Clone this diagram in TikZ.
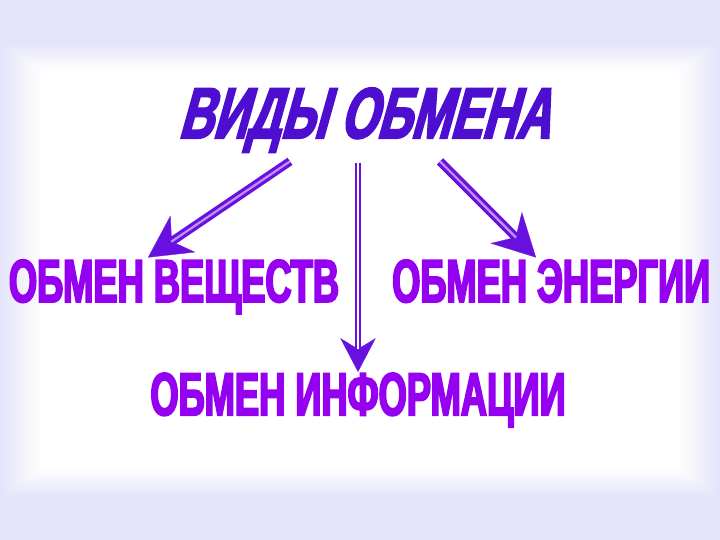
\documentclass[tikz,border=0pt]{standalone}
\usepackage{fontspec}
\usetikzlibrary{arrows.meta}
\newfontfamily\titlefont[FakeStretch=0.66,FakeSlant=0.28,FakeBold=3]{Liberation Sans}
\newfontfamily\itemfont[FakeStretch=0.6,FakeBold=3]{Liberation Sans}
\definecolor{lavender}{RGB}{228, 228, 250}
\definecolor{titleblue}{RGB}{78, 14, 208}
\definecolor{itemviolet}{RGB}{150, 0, 240}
\definecolor{arrowviolet}{RGB}{104, 16, 224}
\tikzset{
  heading/.style={anchor=base, inner sep=0pt, text=titleblue, font=\titlefont\bfseries\fontsize{51}{51}\selectfont},
  kind/.style={anchor=base, inner sep=0pt, text=itemviolet, font=\itemfont\bfseries\fontsize{43}{43}\selectfont},
  shaft/.style={draw=arrowviolet, line width=2.3pt, double=arrowviolet!45!white, double distance=1.6pt, shorten >=20pt},
  thinshaft/.style={draw=arrowviolet, line width=1.1pt, double=white, double distance=1.6pt, shorten >=16pt},
  head/.style={draw=arrowviolet, line width=0.2pt, -{Stealth[length=#1, width=1.05*#1, inset=0.32*#1, fill=arrowviolet]}}
}

\begin{document}
\begin{tikzpicture}
  \useasboundingbox (0,0) rectangle (18,13.5);
  % background
  \fill[lavender] (0,0) rectangle (18,13.5);
  \foreach \i in {1,...,10}
    \fill[white!\the\numexpr\i*10\relax!lavender] (0.1*\i,1.05+0.07*\i) rectangle (18-0.1*\i,12.45-0.07*\i);

  \node[heading]                        (title)  at (9.10,10.05) {ВИДЫ ОБМЕНА};
  \node[kind]                           (matter) at (4.35, 5.95) {ОБМЕН ВЕЩЕСТВ};
  \node[kind]                           (energy) at (13.78,5.95) {ОБМЕН ЭНЕРГИИ};
  \node[kind]                           (info)   at (8.95, 3.12) {ОБМЕН ИНФОРМАЦИИ};

  % arrows: tip first, shaft on top
  \draw[head=30pt]   ([xshift=-1.85cm,yshift=-0.22cm]title.south) -- ([xshift=-0.65cm,yshift=0.05cm]matter.north);
  \draw[shaft]       ([xshift=-1.85cm,yshift=-0.22cm]title.south) -- ([xshift=-0.65cm,yshift=0.05cm]matter.north);
  \draw[head=24pt]   ([yshift=-0.25cm]title.south -| info.north) -- ([yshift=0.02cm]info.north);
  \draw[thinshaft]   ([yshift=-0.25cm]title.south -| info.north) -- ([yshift=0.02cm]info.north);
  \draw[head=30pt]   ([xshift=1.9cm,yshift=-0.22cm]title.south) -- ([xshift=-0.38cm,yshift=0.05cm]energy.north);
  \draw[shaft]       ([xshift=1.9cm,yshift=-0.22cm]title.south) -- ([xshift=-0.38cm,yshift=0.05cm]energy.north);
\end{tikzpicture}
\end{document}
